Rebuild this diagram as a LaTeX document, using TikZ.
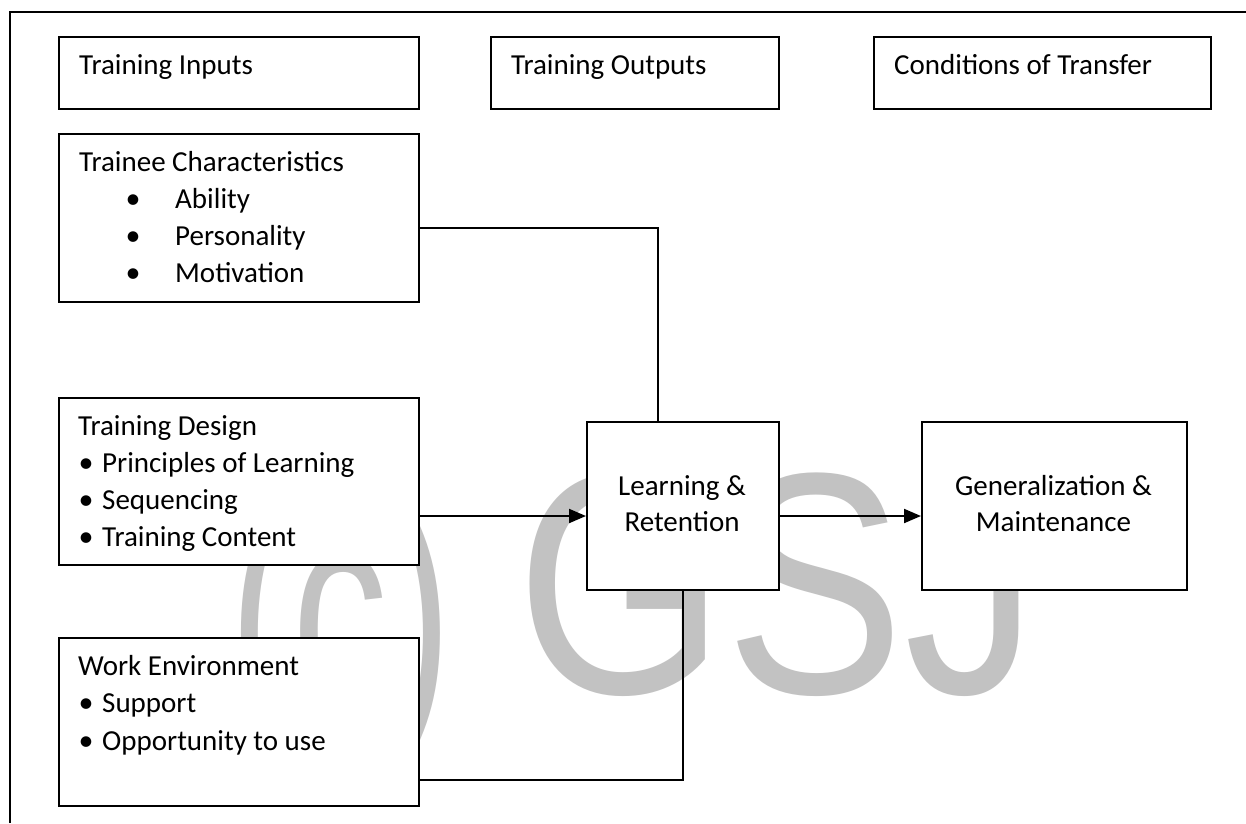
\documentclass[tikz,border=0pt]{standalone}
\usepackage{fontspec}
\setmainfont{Carlito}
\newfontfamily\wmfont{Liberation Sans}
\usetikzlibrary{arrows.meta}
\definecolor{wmgray}{RGB}{194,194,194}
\begin{document}
\begin{tikzpicture}[x=1pt,y=-1pt,
  box/.style={draw=black, fill=white, line width=2pt, inner sep=0pt, anchor=north west},
  txt/.style={anchor=base west, inner sep=0pt, font=\fontsize{29}{37}\selectfont},
  ctxt/.style={anchor=base, inner sep=0pt, font=\fontsize{29}{37}\selectfont},
  bul/.style={anchor=base, inner sep=0pt, font=\fontsize{30}{37}\selectfont},
  conn/.style={line width=2pt},
  arr/.style={line width=2pt, -{Triangle[length=17pt,width=14pt]}},
  wmbig/.style={anchor=base west, inner sep=0pt, text=wmgray, font=\wmfont\fontsize{316}{316}\selectfont},
  wmsmall/.style={anchor=base west, inner sep=0pt, text=wmgray, font=\wmfont\fontsize{290}{290}\selectfont}
]
\useasboundingbox (0,0) rectangle (1246,823);
\fill[white] (0,0) rectangle (1246,823);
% watermark
\node[wmsmall] (wmc) at (229,708) {\scalebox{0.66}[1]{(c)}};
\node[wmbig] (wmg) at (516,693) {\scalebox{0.85}[1]{GSJ}};
% frame
\draw[line width=2.6pt] (10,823) -- (10,12) -- (1246,12);
% boxes
\node[box, minimum width=360pt, minimum height=72pt] (inputs) at (58,36) {};
\node[box, minimum width=288pt, minimum height=72pt] (outputs) at (490,36) {};
\node[box, minimum width=337pt, minimum height=72pt] (cond) at (873,36) {};
\node[box, minimum width=360pt, minimum height=168pt] (trainee) at (58,133) {};
\node[box, minimum width=360pt, minimum height=167pt] (design) at (58,397) {};
\node[box, minimum width=360pt, minimum height=168pt] (work) at (58,637) {};
\node[box, minimum width=192pt, minimum height=168pt] (learn) at (586,421) {};
\node[box, minimum width=265pt, minimum height=168pt] (gen) at (921,421) {};
% texts
\node[txt] (t1) at (79,74) {Training Inputs};
\node[txt] (t2) at (511,74) {Training Outputs};
\node[txt] (t3) at (894,74) {Conditions of Transfer};
\node[txt] (t4) at (79,171) {Trainee Characteristics};
\node[bul] (b41) at (133,208) {•};
\node[txt] (t41) at (175,208) {Ability};
\node[bul] (b42) at (133,245) {•};
\node[txt] (t42) at (175,245) {Personality};
\node[bul] (b43) at (133,282) {•};
\node[txt] (t43) at (175,282) {Motivation};
\node[txt] (t5) at (78,435) {Training Design};
\node[bul] (b51) at (86,472) {•};
\node[txt] (t51) at (102,472) {Principles of Learning};
\node[bul] (b52) at (86,509) {•};
\node[txt] (t52) at (102,509) {Sequencing};
\node[bul] (b53) at (86,546) {•};
\node[txt] (t53) at (102,546) {Training Content};
\node[txt] (t6) at (78,675) {Work Environment};
\node[bul] (b61) at (86,712) {•};
\node[txt] (t61) at (102,712) {Support};
\node[bul] (b62) at (86,750) {•};
\node[txt] (t62) at (102,750) {Opportunity to use};
\node[ctxt] (t7) at (682,495) {Learning \&};
\node[ctxt] (t71) at (682,531) {Retention};
\node[ctxt] (t8) at (1053.5,495) {Generalization \&};
\node[ctxt] (t81) at (1053.5,531) {Maintenance};
% connectors
\coordinate (ya) at (0,228);
\coordinate (yb) at (0,516);
\coordinate (yc) at (0,780);
\coordinate (xa) at (658,0);
\draw[conn] (trainee.east |- ya) -| (learn.north -| xa);
\draw[arr] (design.east |- yb) -- (learn.west |- yb);
\draw[arr] (learn.east |- yb) -- (gen.west |- yb);
\draw[conn] (work.east |- yc) -| (learn.south);
\end{tikzpicture}
\end{document}
